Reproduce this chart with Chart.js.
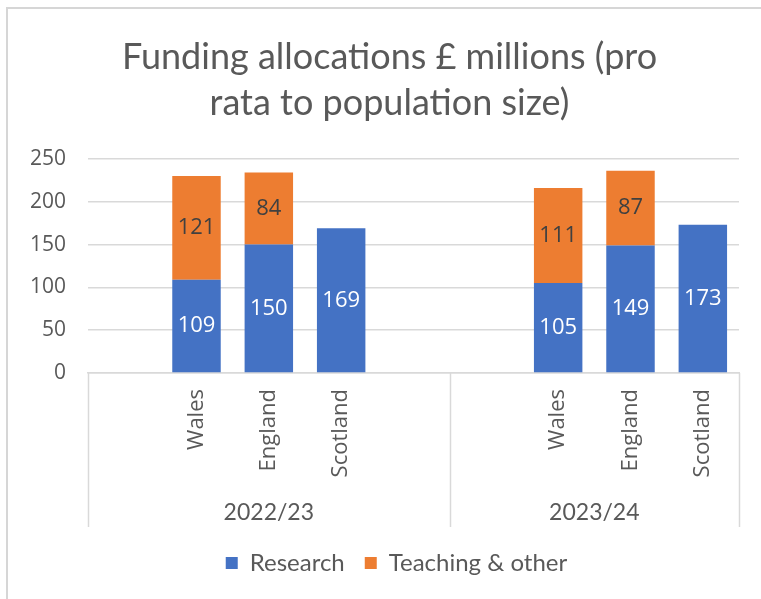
<!DOCTYPE html>
<html>
<head>
<meta charset="utf-8">
<script src="https://cdn.jsdelivr.net/npm/chart.js@4.4.1/dist/chart.umd.min.js"></script>
<style>
  html, body { margin: 0; padding: 0; background: #fff; }
  #wrap { position: absolute; left: 0; top: 0; width: 761px; height: 599px; }
</style>
</head>
<body>
<div id="wrap"><canvas id="funding-chart"></canvas></div>
<script>
// categories (blank slots are the empty gaps Excel leaves in each year group)
var countries = ['', 'Wales', 'England', 'Scotland', '', '', 'Wales', 'England', 'Scotland'];
var years = ['2022/23', '2023/24'];
var yearStart = [0, 5];
var yearEnd = [4, 8];
var research = [null, 109, 150, 169, null, null, 105, 149, 173];
var teaching = [null, 121, 84, null, null, null, 111, 87, null];
var yTicks = [0, 50, 100, 150, 200, 250];

var grey = '#595959';
var lineGrey = '#d9d9d9';

// white frame edge like the pasted Excel chart
var framePlugin = {
  id: 'frame',
  afterLayout: function(chart) {
    // Excel centres title and legend a little to the right of the canvas middle
    chart.legend.left += 17;
    chart.legend.right += 17;
    chart.titleBlock.left += 10;
    chart.titleBlock.right += 10;
  },
  afterDraw: function(chart) {
    var ctx = chart.ctx;
    ctx.save();
    ctx.strokeStyle = '#d6d6d6';
    ctx.lineWidth = 2;
    ctx.beginPath();
    ctx.moveTo(7, chart.height);
    ctx.lineTo(7, 8);
    ctx.lineTo(chart.width, 8);
    ctx.stroke();
    ctx.restore();
  }
};

// value labels in the middle of each bar segment
var barLabels = {
  id: 'barLabels',
  afterDatasetsDraw: function(chart) {
    var ctx = chart.ctx;
    ctx.save();
    ctx.font = '22px "Open Sans"';
    ctx.textAlign = 'center';
    ctx.textBaseline = 'middle';
    chart.data.datasets.forEach(function(ds, di) {
      var meta = chart.getDatasetMeta(di);
      meta.data.forEach(function(bar, i) {
        var v = ds.data[i];
        if (v == null) return;
        ctx.fillStyle = di === 0 ? '#ffffff' : '#404040';
        ctx.fillText(String(v), bar.x, (bar.y + bar.base) / 2);
      });
    });
    ctx.restore();
  }
};

// second row of the category axis: year groups with separators
var yearAxis = {
  id: 'yearAxis',
  afterDraw: function(chart) {
    var x = chart.scales.x;
    var ctx = chart.ctx;
    var half = (x.getPixelForValue(1) - x.getPixelForValue(0)) / 2;
    var top = chart.chartArea.bottom;
    var bottom = top + 154;
    ctx.save();
    ctx.strokeStyle = lineGrey;
    ctx.lineWidth = 1.5;
    var edges = [x.getPixelForValue(yearStart[0]) - half];
    for (var g = 0; g < years.length; g++) {
      edges.push(x.getPixelForValue(yearEnd[g]) + half);
    }
    ctx.beginPath();
    edges.forEach(function(px) {
      ctx.moveTo(Math.round(px) + 0.5, top);
      ctx.lineTo(Math.round(px) + 0.5, bottom);
    });
    ctx.stroke();
    ctx.fillStyle = grey;
    ctx.font = '23px Lato';
    ctx.textAlign = 'center';
    ctx.textBaseline = 'middle';
    for (var g = 0; g < years.length; g++) {
      var cx = (edges[g] + edges[g + 1]) / 2;
      ctx.fillText(years[g], cx, top + 140);
    }
    ctx.restore();
  }
};

var ctx = document.getElementById('funding-chart').getContext('2d');
var chart = new Chart(ctx, {
  type: 'bar',
  data: {
    labels: countries,
    datasets: [
      {
        label: 'Research',
        data: research,
        backgroundColor: '#4472C4',
        barPercentage: 0.67,
        categoryPercentage: 1
      },
      {
        label: 'Teaching & other',
        data: teaching,
        backgroundColor: '#ED7D31',
        barPercentage: 0.67,
        categoryPercentage: 1
      }
    ]
  },
  options: {
    responsive: true,
    maintainAspectRatio: false,
    animation: false,
    layout: {
      padding: { left: 20, right: 22, top: 10, bottom: 14 }
    },
    plugins: {
      title: {
        display: true,
        text: ['Funding allocations \u00a3 millions (pro', 'rata to population size)'],
        color: grey,
        font: { family: 'Lato', size: 36, weight: 'normal', lineHeight: 1.29 },
        padding: { top: 24, bottom: 32 }
      },
      legend: {
        position: 'bottom',
        labels: {
          color: grey,
          font: { family: 'Lato', size: 24 },
          boxWidth: 12,
          boxHeight: 12,
          padding: 20
        }
      },
      tooltip: { enabled: false }
    },
    scales: {
      x: {
        stacked: true,
        grid: { display: false },
        border: { display: true, color: lineGrey, width: 1.5 },
        ticks: {
          color: grey,
          font: { family: 'Open Sans', size: 22 },
          autoSkip: false,
          maxRotation: 90,
          minRotation: 90,
          padding: 8
        },
        afterFit: function(scale) { scale.height = 158; }
      },
      y: {
        stacked: true,
        min: 0,
        max: 250,
        afterBuildTicks: function(scale) {
          scale.ticks = yTicks.map(function(v) { return { value: v }; });
        },
        grid: { color: lineGrey, lineWidth: 1.5, drawTicks: false },
        border: { display: false },
        ticks: {
          color: grey,
          font: { family: 'Open Sans', size: 21 },
          padding: 22
        },
        afterFit: function(scale) { scale.width = 68; }
      }
    }
  },
  plugins: [framePlugin, barLabels, yearAxis]
});
</script>
</body>
</html>
